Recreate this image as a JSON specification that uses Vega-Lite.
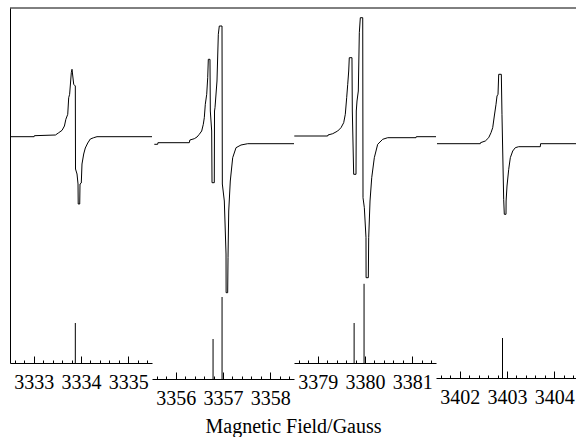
{
  "$schema": "https://vega.github.io/schema/vega-lite/v6.json",
  "padding": {"left": 8, "top": 7, "right": 0, "bottom": 0},
  "spacing": 0,
  "bounds": "flush",
  "background": "white",
  "config": {
    "view": {"stroke": null},
    "font": "Liberation Serif",
    "axis": {
      "grid": false,
      "domainColor": "black",
      "domainWidth": 1,
      "tickColor": "black",
      "tickWidth": 1,
      "labelColor": "black",
      "labelFont": "Liberation Serif",
      "labelFontSize": 20,
      "title": null
    },
    "line": {"color": "black", "strokeWidth": 1},
    "rule": {"color": "black", "strokeWidth": 1}
  },
  "title": {
    "text": "Magnetic Field/Gauss",
    "orient": "bottom",
    "anchor": "middle",
    "font": "Liberation Serif",
    "fontSize": 20,
    "fontWeight": "normal",
    "color": "black",
    "offset": 9
  },
  "datasets": {
    "frame": [{"edge": 1}],
    "spectrum": [
      {"panel": 1, "field": 3332.5, "signal": 0},
      {"panel": 1, "field": 3333.01, "signal": 0},
      {"panel": 1, "field": 3333.015, "signal": 0.1},
      {"panel": 1, "field": 3333.46, "signal": 0.17},
      {"panel": 1, "field": 3333.53, "signal": 0.4},
      {"panel": 1, "field": 3333.6, "signal": 0.64},
      {"panel": 1, "field": 3333.65, "signal": 1.07},
      {"panel": 1, "field": 3333.68, "signal": 1.74},
      {"panel": 1, "field": 3333.72, "signal": 2.24},
      {"panel": 1, "field": 3333.74, "signal": 3.9},
      {"panel": 1, "field": 3333.76, "signal": 4.24},
      {"panel": 1, "field": 3333.795, "signal": 6.4},
      {"panel": 1, "field": 3333.81, "signal": 6.74},
      {"panel": 1, "field": 3333.846, "signal": 5.24},
      {"panel": 1, "field": 3333.88, "signal": 5.07},
      {"panel": 1, "field": 3333.884, "signal": -3.23},
      {"panel": 1, "field": 3333.916, "signal": -3.73},
      {"panel": 1, "field": 3333.937, "signal": -4.73},
      {"panel": 1, "field": 3333.941, "signal": -6.73},
      {"panel": 1, "field": 3333.973, "signal": -6.73},
      {"panel": 1, "field": 3333.979, "signal": -4.73},
      {"panel": 1, "field": 3334.006, "signal": -4.63},
      {"panel": 1, "field": 3334.021, "signal": -2.73},
      {"panel": 1, "field": 3334.057, "signal": -1.73},
      {"panel": 1, "field": 3334.091, "signal": -1.13},
      {"panel": 1, "field": 3334.142, "signal": -0.63},
      {"panel": 1, "field": 3334.197, "signal": -0.23},
      {"panel": 1, "field": 3334.268, "signal": -0.1},
      {"panel": 1, "field": 3334.338, "signal": 0},
      {"panel": 1, "field": 3335.5, "signal": 0},

      {"panel": 2, "field": 3355.549, "signal": -0.1},
      {"panel": 2, "field": 3355.62, "signal": -0.1},
      {"panel": 2, "field": 3355.625, "signal": 0.06},
      {"panel": 2, "field": 3356.288, "signal": 0.06},
      {"panel": 2, "field": 3356.3, "signal": 0.33},
      {"panel": 2, "field": 3356.394, "signal": 0.46},
      {"panel": 2, "field": 3356.451, "signal": 0.63},
      {"panel": 2, "field": 3356.499, "signal": 0.9},
      {"panel": 2, "field": 3356.55, "signal": 1.23},
      {"panel": 2, "field": 3356.584, "signal": 1.9},
      {"panel": 2, "field": 3356.605, "signal": 2.56},
      {"panel": 2, "field": 3356.626, "signal": 3.9},
      {"panel": 2, "field": 3356.656, "signal": 4.9},
      {"panel": 2, "field": 3356.677, "signal": 6.56},
      {"panel": 2, "field": 3356.69, "signal": 8.4},
      {"panel": 2, "field": 3356.725, "signal": 8.4},
      {"panel": 2, "field": 3356.732, "signal": 3.23},
      {"panel": 2, "field": 3356.761, "signal": 1.23},
      {"panel": 2, "field": 3356.768, "signal": -3.94},
      {"panel": 2, "field": 3356.816, "signal": -3.94},
      {"panel": 2, "field": 3356.821, "signal": 3.23},
      {"panel": 2, "field": 3356.831, "signal": 3.56},
      {"panel": 2, "field": 3356.873, "signal": 6.23},
      {"panel": 2, "field": 3356.901, "signal": 10.9},
      {"panel": 2, "field": 3356.922, "signal": 11.73},
      {"panel": 2, "field": 3356.979, "signal": 11.73},
      {"panel": 2, "field": 3356.986, "signal": -4.07},
      {"panel": 2, "field": 3357.028, "signal": -5.77},
      {"panel": 2, "field": 3357.064, "signal": -11.07},
      {"panel": 2, "field": 3357.066, "signal": -14.94},
      {"panel": 2, "field": 3357.099, "signal": -14.94},
      {"panel": 2, "field": 3357.106, "signal": -11.44},
      {"panel": 2, "field": 3357.121, "signal": -6.77},
      {"panel": 2, "field": 3357.154, "signal": -3.77},
      {"panel": 2, "field": 3357.205, "signal": -1.44},
      {"panel": 2, "field": 3357.275, "signal": -0.44},
      {"panel": 2, "field": 3357.38, "signal": -0.17},
      {"panel": 2, "field": 3357.522, "signal": -0.04},
      {"panel": 2, "field": 3358.5, "signal": -0.04},

      {"panel": 3, "field": 3378.506, "signal": 0},
      {"panel": 3, "field": 3379.212, "signal": 0},
      {"panel": 3, "field": 3379.217, "signal": 0.1},
      {"panel": 3, "field": 3379.318, "signal": 0.23},
      {"panel": 3, "field": 3379.423, "signal": 0.5},
      {"panel": 3, "field": 3379.493, "signal": 0.83},
      {"panel": 3, "field": 3379.55, "signal": 1.33},
      {"panel": 3, "field": 3379.584, "signal": 2.17},
      {"panel": 3, "field": 3379.613, "signal": 3.83},
      {"panel": 3, "field": 3379.635, "signal": 5.17},
      {"panel": 3, "field": 3379.656, "signal": 6.5},
      {"panel": 3, "field": 3379.668, "signal": 7.83},
      {"panel": 3, "field": 3379.725, "signal": 7.83},
      {"panel": 3, "field": 3379.732, "signal": 2.5},
      {"panel": 3, "field": 3379.761, "signal": -3.83},
      {"panel": 3, "field": 3379.81, "signal": -3.83},
      {"panel": 3, "field": 3379.816, "signal": 2.5},
      {"panel": 3, "field": 3379.831, "signal": 3.5},
      {"panel": 3, "field": 3379.859, "signal": 4.5},
      {"panel": 3, "field": 3379.88, "signal": 10.33},
      {"panel": 3, "field": 3379.901, "signal": 11.83},
      {"panel": 3, "field": 3379.952, "signal": 11.83},
      {"panel": 3, "field": 3379.958, "signal": -6.17},
      {"panel": 3, "field": 3379.986, "signal": -7.17},
      {"panel": 3, "field": 3380.021, "signal": -10.17},
      {"panel": 3, "field": 3380.023, "signal": -14.17},
      {"panel": 3, "field": 3380.07, "signal": -14.17},
      {"panel": 3, "field": 3380.078, "signal": -10.17},
      {"panel": 3, "field": 3380.106, "signal": -6.5},
      {"panel": 3, "field": 3380.142, "signal": -4.17},
      {"panel": 3, "field": 3380.197, "signal": -2.17},
      {"panel": 3, "field": 3380.268, "signal": -0.83},
      {"panel": 3, "field": 3380.374, "signal": -0.33},
      {"panel": 3, "field": 3380.48, "signal": -0.17},
      {"panel": 3, "field": 3381.078, "signal": -0.17},
      {"panel": 3, "field": 3381.083, "signal": -0.07},
      {"panel": 3, "field": 3381.5, "signal": -0.07},

      {"panel": 4, "field": 3401.521, "signal": 0},
      {"panel": 4, "field": 3402.436, "signal": 0},
      {"panel": 4, "field": 3402.44, "signal": 0.1},
      {"panel": 4, "field": 3402.542, "signal": 0.27},
      {"panel": 4, "field": 3402.613, "signal": 0.6},
      {"panel": 4, "field": 3402.662, "signal": 1.1},
      {"panel": 4, "field": 3402.698, "signal": 1.6},
      {"panel": 4, "field": 3402.732, "signal": 2.77},
      {"panel": 4, "field": 3402.768, "signal": 3.94},
      {"panel": 4, "field": 3402.789, "signal": 4.77},
      {"panel": 4, "field": 3402.81, "signal": 4.94},
      {"panel": 4, "field": 3402.825, "signal": 6.94},
      {"panel": 4, "field": 3402.88, "signal": 6.94},
      {"panel": 4, "field": 3402.894, "signal": 2.94},
      {"panel": 4, "field": 3402.93, "signal": -5.56},
      {"panel": 4, "field": 3402.943, "signal": -7.06},
      {"panel": 4, "field": 3402.979, "signal": -7.06},
      {"panel": 4, "field": 3402.981, "signal": -5.73},
      {"panel": 4, "field": 3403.0, "signal": -4.23},
      {"panel": 4, "field": 3403.036, "signal": -2.56},
      {"panel": 4, "field": 3403.07, "signal": -1.4},
      {"panel": 4, "field": 3403.121, "signal": -0.73},
      {"panel": 4, "field": 3403.175, "signal": -0.4},
      {"panel": 4, "field": 3403.247, "signal": -0.3},
      {"panel": 4, "field": 3403.704, "signal": -0.3},
      {"panel": 4, "field": 3403.709, "signal": 0},
      {"panel": 4, "field": 3404.48, "signal": 0}
    ],
    "sticks": [
      {"panel": 1, "field": 3333.88, "intensity": 1.0},
      {"panel": 2, "field": 3356.79, "intensity": 1.0},
      {"panel": 2, "field": 3356.98, "intensity": 2.05},
      {"panel": 3, "field": 3379.77, "intensity": 1.0},
      {"panel": 3, "field": 3379.98, "intensity": 1.98},
      {"panel": 4, "field": 3402.905, "intensity": 1.0}
    ]
  },
  "hconcat": [
    {
      "width": 142,
      "height": 355,
      "layer": [
        {
          "data": {"name": "spectrum"},
          "transform": [{"filter": "datum.panel == 1"}],
          "mark": {"type": "line"},
          "encoding": {
            "x": {
              "field": "field", "type": "quantitative",
              "scale": {"domain": [3332.5, 3335.5], "nice": false, "zero": false},
              "axis": {"orient": "bottom", "values": [3333, 3334, 3335], "format": "d", "labelOverlap": false, "tickSize": -7, "labelPadding": 16}
            },
            "y": {
              "field": "signal", "type": "quantitative",
              "scale": {"domain": [-22.63, 12.87], "nice": false, "zero": false},
              "axis": {"ticks": false, "labels": false, "domain": true}
            }
          }
        },
        {
          "data": {"name": "sticks"},
          "transform": [{"filter": "datum.panel == 1"}],
          "mark": {"type": "rule"},
          "encoding": {
            "x": {
              "field": "field", "type": "quantitative",
              "axis": {"orient": "bottom", "values": [3332.6, 3332.8, 3333.2, 3333.4, 3333.6, 3333.8, 3334.2, 3334.4, 3334.6, 3334.8, 3335.2, 3335.4], "labels": false, "domain": false, "tickSize": -3}
            },
            "y": {"field": "intensity", "type": "quantitative", "scale": {"domain": [0, 8.875], "nice": false}, "axis": null},
            "y2": {"datum": 0}
          }
        },
        {
          "data": {"name": "frame"},
          "mark": {"type": "rule"},
          "encoding": {
            "y": {"field": "edge", "type": "quantitative", "scale": {"domain": [0, 1], "nice": false}, "axis": null}
          }
        }
      ],
      "resolve": {"scale": {"y": "independent"}, "axis": {"x": "independent"}}
    },
    {
      "width": 142,
      "height": 371,
      "layer": [
        {
          "data": {"name": "spectrum"},
          "transform": [{"filter": "datum.panel == 2"}],
          "mark": {"type": "line"},
          "encoding": {
            "x": {
              "field": "field", "type": "quantitative",
              "scale": {"domain": [3355.5, 3358.5], "nice": false, "zero": false},
              "axis": {"orient": "bottom", "values": [3356, 3357, 3358], "format": "d", "labelOverlap": false, "tickSize": -7, "labelPadding": 16}
            },
            "y": {
              "field": "signal", "type": "quantitative",
              "scale": {"domain": [-23.57, 13.53], "nice": false, "zero": false},
              "axis": null
            }
          }
        },
        {
          "data": {"name": "sticks"},
          "transform": [{"filter": "datum.panel == 2"}],
          "mark": {"type": "rule"},
          "encoding": {
            "x": {
              "field": "field", "type": "quantitative",
              "axis": {"orient": "bottom", "values": [3355.6, 3355.8, 3356.2, 3356.4, 3356.6, 3356.8, 3357.2, 3357.4, 3357.6, 3357.8, 3358.2, 3358.4], "labels": false, "domain": false, "tickSize": -3}
            },
            "y": {"field": "intensity", "type": "quantitative", "scale": {"domain": [0, 9.275], "nice": false}, "axis": null},
            "y2": {"datum": 0}
          }
        },
        {
          "data": {"name": "frame"},
          "mark": {"type": "rule"},
          "encoding": {
            "y": {"field": "edge", "type": "quantitative", "scale": {"domain": [0, 1], "nice": false}, "axis": null}
          }
        }
      ],
      "resolve": {"scale": {"y": "independent"}, "axis": {"x": "independent"}}
    },
    {
      "width": 142,
      "height": 355,
      "layer": [
        {
          "data": {"name": "spectrum"},
          "transform": [{"filter": "datum.panel == 3"}],
          "mark": {"type": "line"},
          "encoding": {
            "x": {
              "field": "field", "type": "quantitative",
              "scale": {"domain": [3378.5, 3381.5], "nice": false, "zero": false},
              "axis": {"orient": "bottom", "values": [3379, 3380, 3381], "format": "d", "labelOverlap": false, "tickSize": -7, "labelPadding": 16}
            },
            "y": {
              "field": "signal", "type": "quantitative",
              "scale": {"domain": [-22.7, 12.8], "nice": false, "zero": false},
              "axis": null
            }
          }
        },
        {
          "data": {"name": "sticks"},
          "transform": [{"filter": "datum.panel == 3"}],
          "mark": {"type": "rule"},
          "encoding": {
            "x": {
              "field": "field", "type": "quantitative",
              "axis": {"orient": "bottom", "values": [3378.6, 3378.8, 3379.2, 3379.4, 3379.6, 3379.8, 3380.2, 3380.4, 3380.6, 3380.8, 3381.2, 3381.4], "labels": false, "domain": false, "tickSize": -3}
            },
            "y": {"field": "intensity", "type": "quantitative", "scale": {"domain": [0, 8.875], "nice": false}, "axis": null},
            "y2": {"datum": 0}
          }
        },
        {
          "data": {"name": "frame"},
          "mark": {"type": "rule"},
          "encoding": {
            "y": {"field": "edge", "type": "quantitative", "scale": {"domain": [0, 1], "nice": false}, "axis": null}
          }
        }
      ],
      "resolve": {"scale": {"y": "independent"}, "axis": {"x": "independent"}}
    },
    {
      "width": 142,
      "height": 370,
      "layer": [
        {
          "data": {"name": "spectrum"},
          "transform": [{"filter": "datum.panel == 4"}],
          "mark": {"type": "line"},
          "encoding": {
            "x": {
              "field": "field", "type": "quantitative",
              "scale": {"domain": [3401.5, 3404.5], "nice": false, "zero": false},
              "axis": {"orient": "bottom", "values": [3402, 3403, 3404], "format": "d", "labelOverlap": false, "tickSize": -7, "labelPadding": 16}
            },
            "y": {
              "field": "signal", "type": "quantitative",
              "scale": {"domain": [-23.43, 13.57], "nice": false, "zero": false},
              "axis": null
            }
          }
        },
        {
          "data": {"name": "sticks"},
          "transform": [{"filter": "datum.panel == 4"}],
          "mark": {"type": "rule"},
          "encoding": {
            "x": {
              "field": "field", "type": "quantitative",
              "axis": {"orient": "bottom", "values": [3401.6, 3401.8, 3402.2, 3402.4, 3402.6, 3402.8, 3403.2, 3403.4, 3403.6, 3403.8, 3404.2, 3404.4], "labels": false, "domain": false, "tickSize": -3}
            },
            "y": {"field": "intensity", "type": "quantitative", "scale": {"domain": [0, 9.25], "nice": false}, "axis": null},
            "y2": {"datum": 0}
          }
        },
        {
          "data": {"name": "frame"},
          "mark": {"type": "rule"},
          "encoding": {
            "y": {"field": "edge", "type": "quantitative", "scale": {"domain": [0, 1], "nice": false}, "axis": null}
          }
        }
      ],
      "resolve": {"scale": {"y": "independent"}, "axis": {"x": "independent"}}
    }
  ]
}
